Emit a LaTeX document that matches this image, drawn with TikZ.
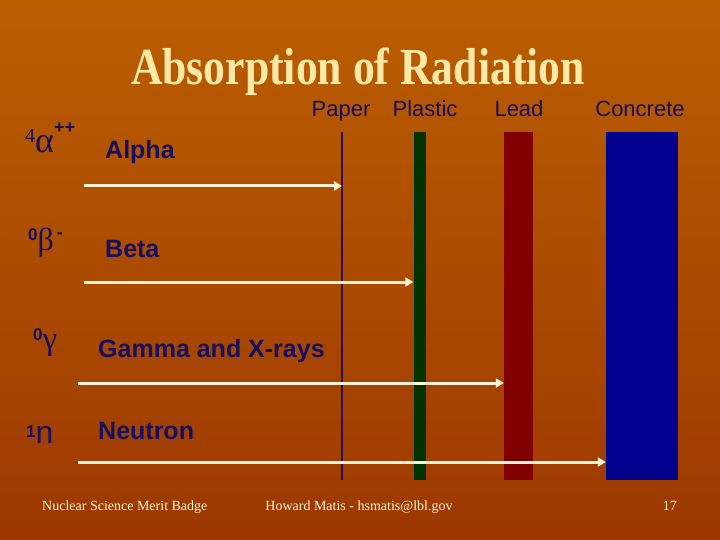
\documentclass[tikz,border=0pt]{standalone}
\usepackage{fontspec}
\setmainfont{Liberation Serif}
\setsansfont{Liberation Sans}
\usepackage{graphicx}
\usetikzlibrary{arrows.meta,positioning}
\definecolor{absBgTop}{HTML}{BB5E00}
\definecolor{absBgBot}{HTML}{9C3800}
\definecolor{absTitle}{HTML}{FFE9A6}
\definecolor{absInk}{HTML}{140F62}
\definecolor{absRay}{HTML}{FFF4DA}
\definecolor{absPaper}{HTML}{2A0F55}
\definecolor{absPlastic}{HTML}{003300}
\definecolor{absLead}{HTML}{800000}
\definecolor{absConcrete}{HTML}{00008C}
\newcommand{\absfs}[1]{\fontsize{#1}{#1}\selectfont}
\tikzset{
  abshead/.style={text=absInk,font=\sffamily\absfs{22},inner sep=0pt,anchor=base},
  abslbl/.style={text=absInk,font=\sffamily\bfseries\absfs{25},inner sep=0pt,anchor=base west},
  abssym/.style={text=absInk,inner sep=0pt,anchor=base west},
  absbar/.style={draw=none,inner sep=0pt,minimum height=348pt,anchor=north},
  absray/.style={-{Triangle[length=8pt,width=9pt]},draw=absRay,line width=3pt},
  absfoot/.style={text=absRay,font=\absfs{14},inner sep=0pt,anchor=base},
}

\begin{document}
\begin{tikzpicture}[x=1pt,y=-1pt]
  \shade[top color=absBgTop,bottom color=absBgBot] (0,0) rectangle (720,540);
  \useasboundingbox (0,0) rectangle (720,540);

  \node[text=absTitle,font=\bfseries\absfs{52},inner sep=0pt,anchor=base] (title) at (358,85)
        {\scalebox{0.84}[1]{Absorption of Radiation}};

  % barriers
  \node[absbar,fill=absPaper,minimum width=2pt]     (paper)    at (342,132)   {};
  \node[absbar,fill=absPlastic,minimum width=12pt]  (plastic)  at (419.5,132) {};
  \node[absbar,fill=absLead,minimum width=29pt]     (lead)     at (518.5,132) {};
  \node[absbar,fill=absConcrete,minimum width=72pt] (concrete) at (642,132)   {};

  \node[abshead] (paperhd)    at (341,117) {Paper};
  \node[abshead] (plastichd)  at (425,117) {Plastic};
  \node[abshead] (leadhd)     at (519,117) {Lead};
  \node[abshead] (concretehd) at (640,117) {Concrete};

  % particles
  \node[abssym] (alphasym) at (25,153)
        {\absfs{20}\raisebox{10pt}{4}\absfs{36}α\sffamily\bfseries\absfs{18}\raisebox{19pt}{++}};
  \node[abssym] (betasym) at (28,251)
        {\sffamily\bfseries\absfs{17}\raisebox{10pt}{0}\rmfamily\mdseries\absfs{32}β\hspace{3pt}\sffamily\bfseries\absfs{18}\raisebox{12pt}{-}};
  \node[abssym] (gammasym) at (33,349)
        {\sffamily\bfseries\absfs{17}\raisebox{9pt}{0}\rmfamily\mdseries\absfs{33}γ};
  \node[abssym] (neutronsym) at (26,443)
        {\sffamily\bfseries\absfs{17}\raisebox{6pt}{1}\mdseries\absfs{32}n};

  \node[abslbl] (alphalbl)   at (105,159) {Alpha};
  \node[abslbl] (betalbl)    at (105,257) {Beta};
  \node[abslbl] (gammalbl)   at (98,357)  {Gamma and X-rays};
  \node[abslbl] (neutronlbl) at (98,439)  {Neutron};

  % rays stop at the first barrier they cannot pass
  \coordinate (alphasrc)   at (84,186);
  \coordinate (betasrc)    at (84,282);
  \coordinate (gammasrc)   at (78,383);
  \coordinate (neutronsrc) at (78,462);
  \draw[absray] (alphasrc) -- (alphasrc -| paper.center);
  \foreach \s/\b in {betasrc/plastic,gammasrc/lead,neutronsrc/concrete}{\draw[absray] (\s) -- (\s -| \b.west);}

  \node[absfoot,anchor=base west] (footl) at (42,510)  {Nuclear Science Merit Badge};
  \node[absfoot]                  (footc) at (359,510) {Howard Matis - hsmatis@lbl.gov};
  \node[absfoot,anchor=base east] (footr) at (677,510) {17};
\end{tikzpicture}
\end{document}
